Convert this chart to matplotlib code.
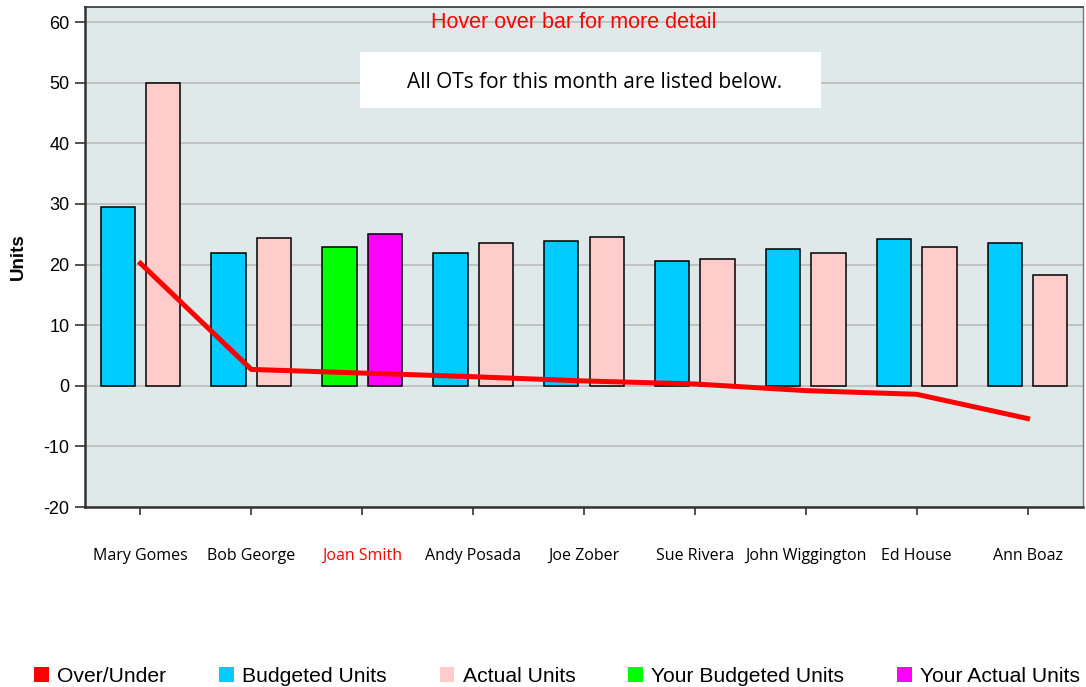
import matplotlib.pyplot as plt
import numpy as np
from matplotlib.patches import Patch, Rectangle

plt.rcParams["axes.unicode_minus"] = False

names = ["Mary Gomes", "Bob George", "Joan Smith", "Andy Posada", "Joe Zober",
         "Sue Rivera", "John Wiggington", "Ed House", "Ann Boaz"]
budgeted = [29.5, 21.9, 22.9, 21.9, 23.9, 20.6, 22.6, 24.2, 23.6]
actual = [50.0, 24.4, 25.1, 23.6, 24.6, 20.9, 21.9, 22.9, 18.3]
over_under = [20.2, 2.7, 2.1, 1.5, 0.8, 0.3, -0.8, -1.4, -5.4]
you = "Joan Smith"

fig = plt.figure(figsize=(10.86, 6.87), dpi=100)
ax = fig.add_axes([85/1086, 1 - 507/687, 998/1086, 500/687])
ax.set_facecolor("#dfe9e9")

x = np.arange(len(names))
bcol = ["#00ff00" if n == you else "#00ccff" for n in names]
acol = ["#ff00ff" if n == you else "#ffcccc" for n in names]
ax.bar(x - 0.205, budgeted, width=0.31, color=bcol, edgecolor="black", linewidth=1.1, zorder=2)
ax.bar(x + 0.205, actual, width=0.31, color=acol, edgecolor="black", linewidth=1.1, zorder=2)
ax.plot(x, over_under, color="#ff0000", linewidth=3.6, zorder=3)

ax.set_xlim(-0.5, 8.5)
ax.set_ylim(-20, 62.5)
ax.set_yticks(range(-20, 61, 10))
ax.yaxis.grid(True, color="#bbbbbb", linewidth=1.2, zorder=0)
ax.set_axisbelow(True)
ax.set_xticks(x)
ax.set_xticklabels([])
# names on a common baseline, well below the axis
for xi, n in zip(x, names):
    ax.text(xi, -53/500, n, transform=ax.get_xaxis_transform(), family="Open Sans",
            fontsize=11.5, ha="center", va="baseline",
            color="red" if n == you else "black")
ax.tick_params(axis="x", length=6, width=1.2, color="#333333")
ax.tick_params(axis="y", length=7, width=1.2, labelsize=13, pad=4, color="#333333")
for t in ax.get_yticklabels():
    t.set_family("Liberation Sans")
for side in ["left", "bottom"]:
    ax.spines[side].set_linewidth(1.8)
    ax.spines[side].set_color("#333333")
ax.spines["top"].set_linewidth(1.2)
ax.spines["top"].set_color("#333333")
ax.spines["right"].set_linewidth(1.0)
ax.spines["right"].set_color("#777777")
ax.set_ylabel("Units", fontweight="bold", fontsize=13.5, family="Liberation Sans", labelpad=12)

ax.text(0.49, 1 - 15/500, "Hover over bar for more detail", transform=ax.transAxes,
        color="red", fontsize=15.5, family="Liberation Sans", ha="center", va="center")
fig.patches.append(Rectangle((360/1086, 1 - 108/687), 461/1086, 56/687,
                             transform=fig.transFigure, facecolor="white",
                             edgecolor="none", zorder=5))
fig.text(595/1086, 1 - 82/687, "All OTs for this month are listed below.",
         family="Open Sans", fontsize=15, ha="center", va="center", zorder=6)

handles = [Patch(facecolor=c, edgecolor="none") for c in
           ["#ff0000", "#00ccff", "#ffcccc", "#00ff00", "#ff00ff"]]
labels = ["Over/Under", "Budgeted Units", "Actual Units", "Your Budgeted Units", "Your Actual Units"]
fig.legend(handles, labels, loc="center", bbox_to_anchor=(0.513, 1 - 676/687), ncol=5,
           frameon=False, prop={"family": "Liberation Sans", "size": 15.2},
           handlelength=0.7, handleheight=0.7, handletextpad=0.4, columnspacing=2.5,
           borderaxespad=0, borderpad=0)

fig.savefig("out.png", dpi=100)
